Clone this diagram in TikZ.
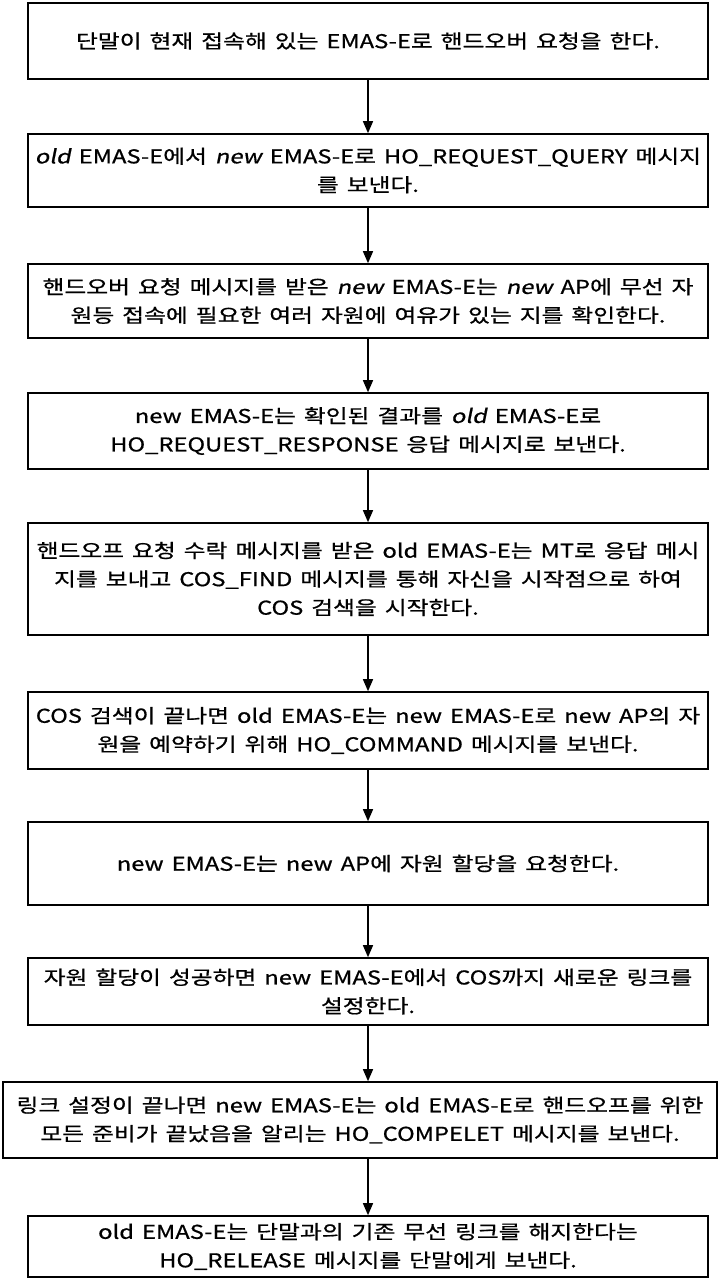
\documentclass[tikz,border=0pt]{standalone}
\usepackage{fontspec}
\newfontfamily\kr[FakeStretch=1.25,FakeBold=0.8,WordSpace=1.5]{Noto Sans CJK KR}
\newfontfamily\krsl[FakeStretch=1.25,FakeBold=0.8,FakeSlant=0.2,WordSpace=1.5]{Noto Sans CJK KR}
\usetikzlibrary{arrows.meta}
\begin{document}
\begin{tikzpicture}[x=1pt,y=-1pt,
  box/.style={draw, line width=1.6pt, minimum width=680pt, inner sep=0pt, align=center,
    font=\kr\fontsize{19}{28.5}\selectfont},
  flow/.style={line width=1.4pt, -{Triangle[length=12pt,width=10pt]}}]
\useasboundingbox (0,0) rectangle (718,1279);
\node[box, minimum height=76pt] (b1) at (368,41) {단말이 현재 접속해 있는 EMAS-E로 핸드오버 요청을 한다.};
\node[box, minimum height=73pt] (b2) at (368,170.5) {{\krsl old} EMAS-E에서 {\krsl new} EMAS-E로 HO\_REQUEST\_QUERY 메시지\\를 보낸다.};
\node[box, minimum height=74pt] (b3) at (368,301) {핸드오버 요청 메시지를 받은 {\krsl new} EMAS-E는 {\krsl new} AP에 무선 자\\원등 접속에 필요한 여러 자원에 여유가 있는 지를 확인한다.};
\node[box, minimum height=76pt] (b4) at (368,431) {new EMAS-E는 확인된 결과를 {\krsl old} EMAS-E로\\HO\_REQUEST\_RESPONSE 응답 메시지로 보낸다.};
\node[box, minimum height=112pt] (b5) at (368,579) {핸드오프 요청 수락 메시지를 받은 old EMAS-E는 MT로 응답 메시\\지를 보내고 COS\_FIND 메시지를 통해 자신을 시작점으로 하여\\COS 검색을 시작한다.};
\node[box, minimum height=77pt] (b6) at (368,730.5) {COS 검색이 끝나면 old EMAS-E는 new EMAS-E로 new AP의 자\\원을 예약하기 위해 HO\_COMMAND 메시지를 보낸다.};
\node[box, minimum height=83pt] (b7) at (368,863.5) {new EMAS-E는 new AP에 자원 할당을 요청한다.};
\node[box, minimum height=67pt] (b8) at (368,991.5) {자원 할당이 성공하면 new EMAS-E에서 COS까지 새로운 링크를\\설정한다.};
\node[box, minimum height=76pt, minimum width=714pt] (b9) at (360,1120) {링크 설정이 끝나면 new EMAS-E는 old EMAS-E로 핸드오프를 위한\\모든 준비가 끝났음을 알리는 HO\_COMPELET 메시지를 보낸다.};
\node[box, minimum height=61pt] (b10) at (368,1246.5) {old EMAS-E는 단말과의 기존 무선 링크를 해지한다는\\HO\_RELEASE 메시지를 단말에게 보낸다.};
\draw[flow] (b1.south) -- (b2.north);
\draw[flow] (b2.south) -- (b3.north);
\draw[flow] (b3.south) -- (b4.north);
\draw[flow] (b4.south) -- (b5.north);
\draw[flow] (b5.south) -- (b6.north);
\draw[flow] (b6.south) -- (b7.north);
\draw[flow] (b7.south) -- (b8.north);
\draw[flow] (b8.south) -- (b8.south |- b9.north);
\draw[flow] (b8.south |- b9.south) -- (b10.north);
\end{tikzpicture}
\end{document}
